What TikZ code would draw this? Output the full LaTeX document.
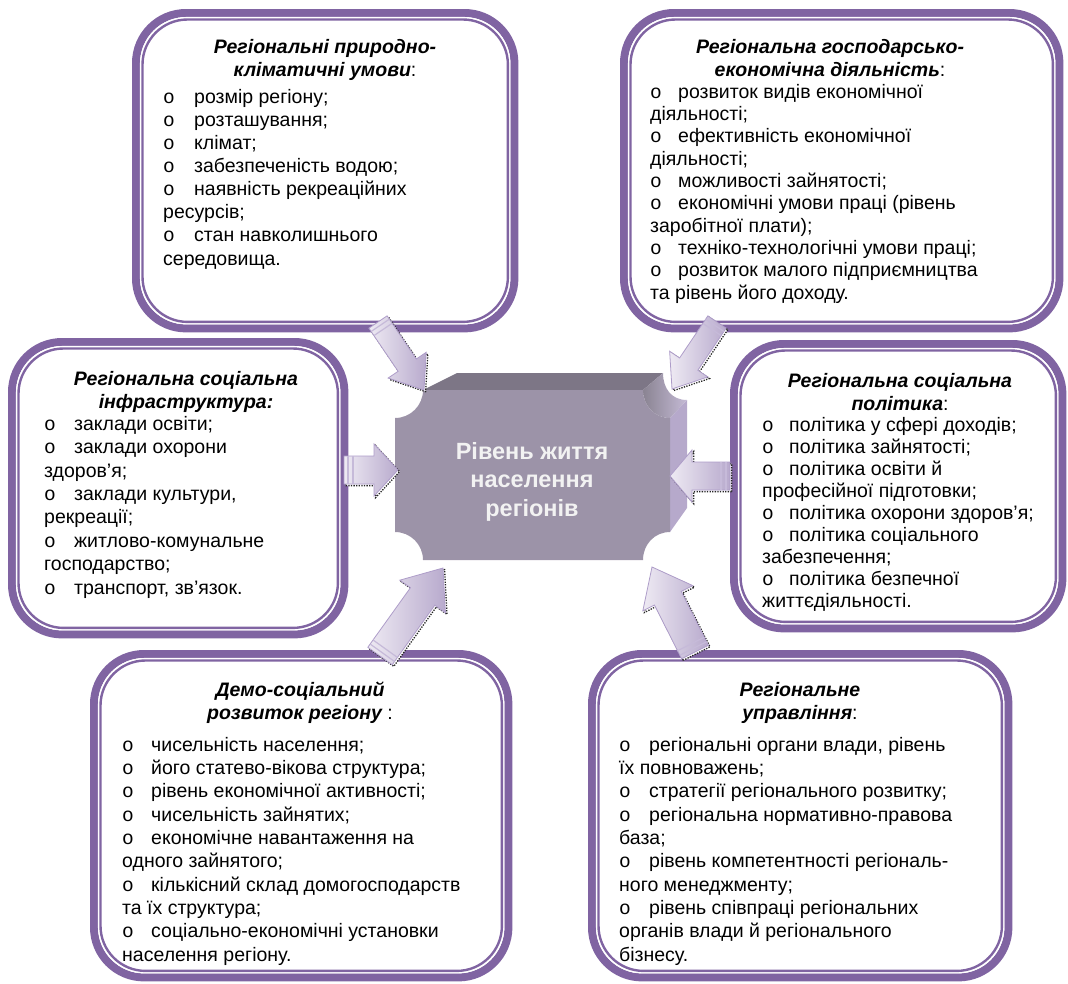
\documentclass[tikz,border=0pt]{standalone}
\usepackage{fontspec}
\setmainfont{Liberation Sans}
\newfontfamily\bulletfont{Liberation Mono}
\usetikzlibrary{calc}

\definecolor{framepurple}{HTML}{8064A2}
\definecolor{facetop}{HTML}{7D7686}
\definecolor{facefront}{HTML}{9C93A8}
\definecolor{faceside}{HTML}{B6A9CB}
\definecolor{arrowlight}{HTML}{EEEAF3}
\definecolor{arrowdark}{HTML}{B8AACD}
\definecolor{arrowedge}{HTML}{AE9DC9}

\newlength\bulgap
\newcommand\bl{\makebox[\bulgap][l]{\bulletfont o}}

% frame of a factor box: thick band, white hairline, thin line
\newcommand\regframe[1]{%
  \draw[framepurple, line width=8pt, rounded corners=50pt] ([shift={(4,4)}]#1.north west) rectangle ([shift={(-4,-4)}]#1.south east);
  \draw[white, line width=1.3pt, rounded corners=46pt] ([shift={(8.6,8.6)}]#1.north west) rectangle ([shift={(-8.6,-8.6)}]#1.south east);
  \draw[framepurple, line width=2.4pt, rounded corners=45pt] ([shift={(10.5,10.5)}]#1.north west) rectangle ([shift={(-10.5,-10.5)}]#1.south east);
}

% block arrow: tail, tip, half shaft, half head, head length
\newcommand\blockarrow[5]{%
  \coordinate (#1h) at ($(#2)!#5!(#1)$);
  \coordinate (#1s) at ($(#1)!4pt!(#2)$);
  \coordinate (#1r) at ($(#1)!9pt!(#2)$);
  \path[arrowshadow] ($(#1)!#3!90:(#2)$) -- ($(#1h)!#3!90:(#2)$) -- ($(#1h)!#4!90:(#2)$) -- (#2) -- ($(#1h)!#4!-90:(#2)$) -- ($(#1h)!#3!-90:(#2)$) -- ($(#1)!#3!-90:(#2)$) -- cycle;
  \path[arrowbody] ($(#1)!#3!90:(#2)$) -- ($(#1h)!#3!90:(#2)$) -- ($(#1h)!#4!90:(#2)$) -- (#2) -- ($(#1h)!#4!-90:(#2)$) -- ($(#1h)!#3!-90:(#2)$) -- ($(#1)!#3!-90:(#2)$) -- cycle;
  \draw[arrowstripe] ($(#1s)!#3!90:(#2)$) -- ($(#1s)!#3!-90:(#2)$);
  \draw[arrowstripe] ($(#1r)!#3!90:(#2)$) -- ($(#1r)!#3!-90:(#2)$);
}

\begin{document}
\begin{tikzpicture}[x=1pt, y=-1pt,
    regbox/.style 2 args={rectangle, minimum width=#1, minimum height=#2, inner sep=0, anchor=north west},
    head/.style={font=\fontsize{19.5}{23}\selectfont\bfseries\itshape, align=center, anchor=north, inner sep=0,
      execute at begin node={\rule{0pt}{17pt}}},
    list/.style={font=\fontsize{19.5}{#1}\selectfont, align=left, anchor=north west, inner sep=0},
    gap/.style={execute at begin node={\global\bulgap=#1\rule{0pt}{17pt}}},
    arrowshadow/.style={draw=black!85, dash pattern=on 1.3pt off 1.3pt, line width=1.3pt, fill=white,
      transform canvas={shift={(1.6pt,-1.6pt)}}},
    arrowbody/.style={draw=arrowedge, line width=0.8pt, left color=arrowlight, right color=arrowdark},
    arrowstripe/.style={draw=arrowedge!70!white, line width=1.2pt}
  ]
  \useasboundingbox (0,0) rectangle (1068,983);

  % factor boxes
  \node[regbox={386pt}{323pt}] (b1) at (132,9) {};
  \node[regbox={443pt}{323pt}] (b2) at (620,9) {};
  \node[regbox={340pt}{300pt}] (b3) at (8,338) {};
  \node[regbox={336pt}{292pt}] (b4) at (730,340) {};
  \node[regbox={422pt}{331pt}] (b5) at (90,650) {};
  \node[regbox={424pt}{331pt}] (b6) at (588,650) {};
  \foreach \b in {b1,b2,b3,b4,b5,b6} {\regframe{\b}}

  % titles
  \node[head] (b1head) at (325,39) {Регіональні природно-\\кліматичні умови{\normalfont :}};
  \node[head] (b2head) at (830,39) {Регіональна господарсько-\\економічна діяльність{\normalfont :}};
  \node[head] (b3head) at (186,371) {Регіональна соціальна\\інфраструктура:};
  \node[head] (b4head) at (900,373) {Регіональна соціальна\\політика{\normalfont :}};
  \node[head] (b5head) at (300,682) {Демо-соціальний\\розвиток регіону{\normalfont\ :}};
  \node[head] (b6head) at (800,682) {Регіональне\\управління{\normalfont :}};

  % lists
  \node[list=23.1pt, gap=31pt] (b1list) at (163,89) {\bl розмір регіону;\\\bl розташування;\\\bl клімат;\\\bl забезпеченість водою;\\\bl наявність рекреаційних\\ресурсів;\\\bl стан навколишнього\\середовища.};
  \node[list=22.3pt, gap=28pt] (b2list) at (650,84) {\bl розвиток видів економічної\\діяльності;\\\bl ефективність економічної\\діяльності;\\\bl можливості зайнятості;\\\bl економічні умови праці (рівень\\заробітної плати);\\\bl техніко-технологічні умови праці;\\\bl розвиток малого підприємництва\\та рівень його доходу.};
  \node[list=23.4pt, gap=30pt] (b3list) at (44,416) {\bl заклади освіти;\\\bl заклади охорони\\здоров'я;\\\bl заклади культури,\\рекреації;\\\bl житлово-комунальне\\господарство;\\\bl транспорт, зв'язок.};
  \node[list=22pt, gap=27pt] (b4list) at (762,417) {\bl політика у сфері доходів;\\\bl політика зайнятості;\\\bl політика освіти й\\професійної підготовки;\\\bl політика охорони здоров'я;\\\bl політика соціального\\забезпечення;\\\bl політика безпечної\\життєдіяльності.};
  \node[list=23.3pt, gap=29pt] (b5list) at (122,737) {\bl чисельність населення;\\\bl його статево-вікова структура;\\\bl рівень економічної активності;\\\bl чисельність зайнятих;\\\bl економічне навантаження на\\одного зайнятого;\\\bl кількісний склад домогосподарств\\та їх структура;\\\bl соціально-економічні установки\\населення регіону.};
  \node[list=23.3pt, gap=30pt] (b6list) at (619,737) {\bl регіональні органи влади, рівень\\їх повноважень;\\\bl стратегії регіонального розвитку;\\\bl регіональна нормативно-правова\\база;\\\bl рівень компетентності регіональ-\\ного менеджменту;\\\bl рівень співпраці регіональних\\органів влади й регіонального\\бізнесу.};

  % central block
  \fill[facetop] (423,390) -- (457,373) -- (663,373) -- (643,390) -- cycle;
  \fill[faceside] (670,418) -- (687,400) -- (687,508) -- (670,532) -- cycle;
  \shade[left color=facetop!90!white, right color=faceside!80!white] (643,390) .. controls (643,405.5) and (654.5,418) .. (670,418) -- (687,400) .. controls (671.5,400) and (663,388.5) .. (663,373) -- cycle;
  \fill[facefront] (423,390) -- (643,390) .. controls (643,405.5) and (654.5,418) .. (670,418) -- (670,532) .. controls (654.5,532) and (643,544.5) .. (643,560) -- (423,560) .. controls (423,544.5) and (410.5,532) .. (395,532) -- (395,418) .. controls (410.5,418) and (423,405.5) .. (423,390) -- cycle;
  \node[font=\fontsize{23.5}{28.5}\selectfont\bfseries, text=white!95!black, align=center, anchor=north, inner sep=0,
    execute at begin node={\rule{0pt}{21pt}}] (centre) at (532,442) {Рівень життя\\населення\\регіонів};

  % arrows towards the centre
  \coordinate (t1) at (378,322); \coordinate (p1) at (424,390);
  \coordinate (t2) at (717,322); \coordinate (p2) at (672,389);
  \coordinate (t3) at (344,470); \coordinate (p3) at (398,470);
  \coordinate (t4) at (730,476); \coordinate (p4) at (670,476);
  \coordinate (t5) at (380,656); \coordinate (p5) at (443,568);
  \coordinate (t6) at (695,652); \coordinate (p6) at (652,567);
  \blockarrow{t1}{p1}{11pt}{23pt}{30pt}
  \blockarrow{t2}{p2}{11pt}{23pt}{30pt}
  \blockarrow{t3}{p3}{14pt}{26pt}{24pt}
  \blockarrow{t4}{p4}{14pt}{26pt}{22pt}
  \blockarrow{t5}{p5}{15pt}{28pt}{35pt}
  \blockarrow{t6}{p6}{15pt}{28pt}{35pt}
\end{tikzpicture}
\end{document}
